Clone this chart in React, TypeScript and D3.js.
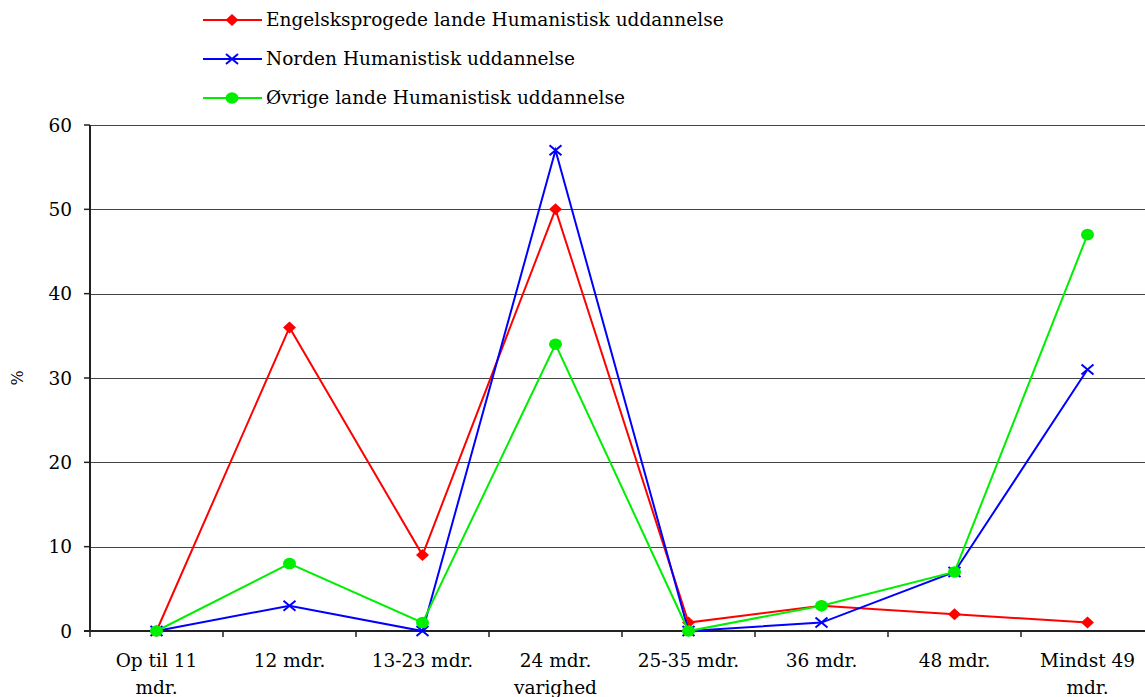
import { useEffect, useRef } from "react";
import * as d3 from "d3";

const categories = [
  "Op til 11 mdr.",
  "12 mdr.",
  "13-23 mdr.",
  "24 mdr. varighed",
  "25-35 mdr.",
  "36 mdr.",
  "48 mdr.",
  "Mindst 49 mdr.",
];
const categoryLines = [
  ["Op til 11", "mdr."],
  ["12 mdr."],
  ["13-23 mdr."],
  ["24 mdr.", "varighed"],
  ["25-35 mdr."],
  ["36 mdr."],
  ["48 mdr."],
  ["Mindst 49", "mdr."],
];
const engelsk = [0, 36, 9, 50, 1, 3, 2, 1];
const norden = [0, 3, 0, 57, 0, 1, 7, 31];
const oevrige = [0, 8, 1, 34, 0, 3, 7, 47];
const yTicks = [0, 10, 20, 30, 40, 50, 60];

const series = [
  { name: "Engelsksprogede lande Humanistisk uddannelse", values: engelsk, color: "#ff0000", marker: "diamond" },
  { name: "Norden Humanistisk uddannelse", values: norden, color: "#0000ff", marker: "cross" },
  { name: "Øvrige lande Humanistisk uddannelse", values: oevrige, color: "#00ee00", marker: "circle" },
];

const W = 1145;
const H = 697;
const FONT = "DejaVu Serif, serif";
const SX = 1.03;

function drawMarker(g: d3.Selection<SVGGElement, unknown, null, undefined>, type: string, x: number, y: number, color: string) {
  if (type === "diamond") {
    g.append("path")
      .attr("d", `M${x},${y - 6}L${x + 6.5},${y}L${x},${y + 6}L${x - 6.5},${y}Z`)
      .attr("fill", color);
  } else if (type === "cross") {
    g.append("path")
      .attr("d", `M${x - 6},${y - 5}L${x + 6},${y + 5}M${x - 6},${y + 5}L${x + 6},${y - 5}`)
      .attr("stroke", color)
      .attr("stroke-width", 2)
      .attr("fill", "none");
  } else {
    g.append("ellipse").attr("cx", x).attr("cy", y).attr("rx", 6.5).attr("ry", 5.8).attr("fill", color);
  }
}

export default function App() {
  const svgRef = useRef<SVGSVGElement>(null);

  useEffect(() => {
    if (!svgRef.current) return;
    const svg = d3.select(svgRef.current);
    svg.selectAll("*").remove();

    const left = 90;
    const bottom = 631;
    const top = 125;
    const band = 133;

    const x = d3
      .scaleBand<string>()
      .domain(categories)
      .range([left, left + band * categories.length])
      .padding(0);
    const cx = (c: string) => (x(c) || 0) + x.bandwidth() / 2;
    const y = d3.scaleLinear().domain([0, 60]).range([bottom, top]);

    const g = svg.append("g") as d3.Selection<SVGGElement, unknown, null, undefined>;

    // grid lines
    yTicks.forEach((t) => {
      if (t === 0) return;
      g.append("line")
        .attr("x1", left)
        .attr("x2", W)
        .attr("y1", Math.round(y(t)) + 0.5)
        .attr("y2", Math.round(y(t)) + 0.5)
        .attr("stroke", "#444")
        .attr("stroke-width", 1.2);
    });

    // axes
    g.append("line").attr("x1", left).attr("x2", left).attr("y1", top).attr("y2", bottom).attr("stroke", "#222").attr("stroke-width", 2);
    g.append("line").attr("x1", left - 6).attr("x2", W).attr("y1", bottom).attr("y2", bottom).attr("stroke", "#222").attr("stroke-width", 2);
    yTicks.forEach((t) => {
      g.append("line").attr("x1", left - 6).attr("x2", left).attr("y1", y(t)).attr("y2", y(t)).attr("stroke", "#222").attr("stroke-width", 1.5);
      g.append("text")
        .attr("transform", `translate(72,${y(t) + 6.5}) scale(${SX},1)`)
        .attr("text-anchor", "end")
        .style("font-family", FONT)
        .attr("font-size", 18)
        .attr("fill", "#000")
        .text(t);
    });
    categories.forEach((c, i) => {
      const bx = x(c) || 0;
      g.append("line").attr("x1", bx).attr("x2", bx).attr("y1", bottom).attr("y2", bottom + 6).attr("stroke", "#222").attr("stroke-width", 1.5);
      categoryLines[i].forEach((ln, j) => {
        g.append("text")
          .attr("transform", `translate(${cx(c)},${667 + j * 27}) scale(${SX},1)`)
          .attr("text-anchor", "middle")
          .style("font-family", FONT)
          .attr("font-size", 18)
          .attr("fill", "#000")
          .text(ln);
      });
    });

    g.append("text")
      .attr("transform", `translate(23,378) rotate(-90)`)
      .attr("text-anchor", "middle")
      .style("font-family", FONT)
      .attr("font-size", 16)
      .attr("fill", "#000")
      .text("%");

    // series
    const line = d3
      .line<number>()
      .x((_, i) => cx(categories[i]))
      .y((d) => y(d));
    series.forEach((s) => {
      g.append("path").attr("d", line(s.values) || "").attr("fill", "none").attr("stroke", s.color).attr("stroke-width", 2);
      s.values.forEach((v, i) => drawMarker(g, s.marker, cx(categories[i]), y(v), s.color));
    });

    // legend
    series.forEach((s, i) => {
      const ly = 20 + i * 39;
      g.append("line").attr("x1", 203).attr("x2", 262).attr("y1", ly).attr("y2", ly).attr("stroke", s.color).attr("stroke-width", 2);
      drawMarker(g, s.marker, 232, ly, s.color);
      g.append("text")
        .attr("transform", `translate(266,${ly + 6}) scale(${SX},1)`)
        .style("font-family", FONT)
        .attr("font-size", 18)
        .attr("fill", "#000")
        .text(s.name);
    });
  }, []);

  return (
    <svg
      ref={svgRef}
      width={W}
      height={H}
      style={{ position: "absolute", left: 0, top: 0, display: "block", background: "#fff" }}
    />
  );
}
